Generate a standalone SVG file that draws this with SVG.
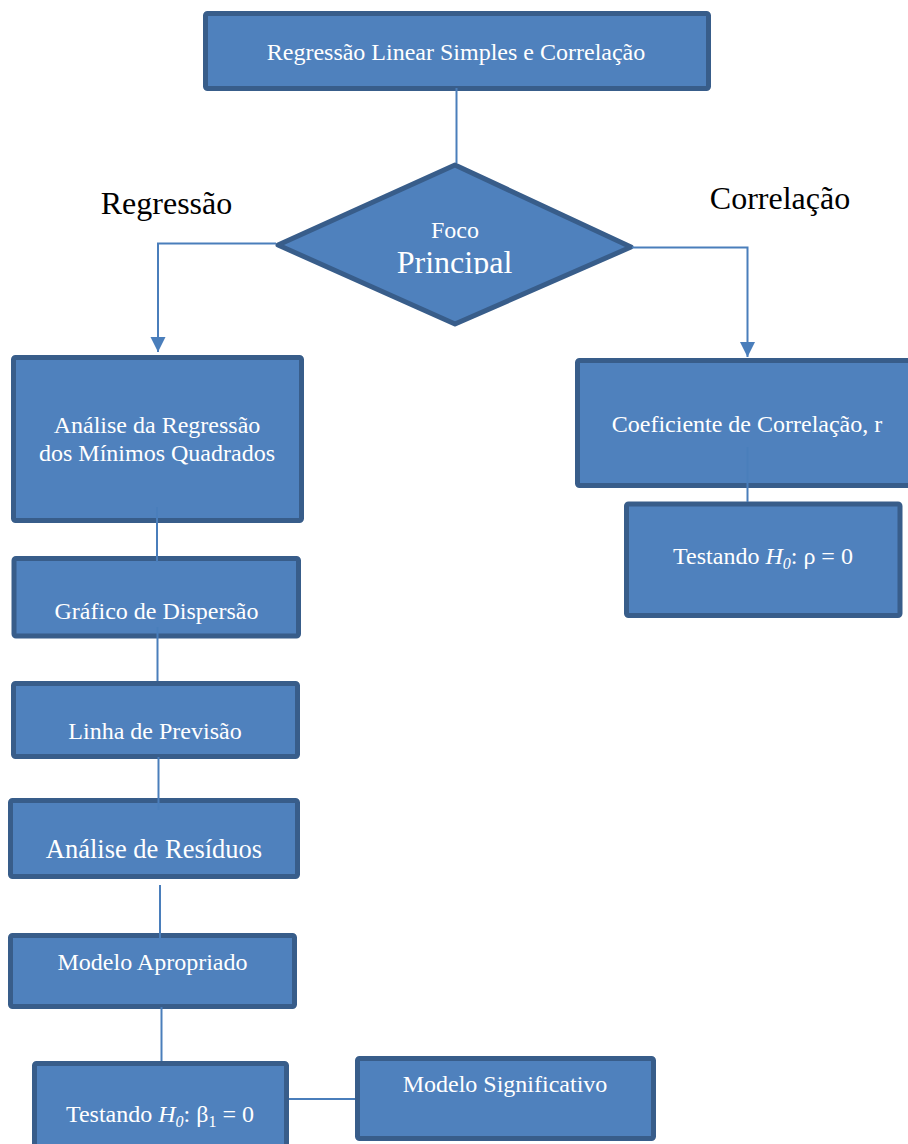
<svg xmlns="http://www.w3.org/2000/svg" width="908" height="1144" viewBox="0 0 908 1144">
<style>
.box{fill:#4F81BD;stroke:#385D8A;stroke-width:5;}
.t{font-family:"Liberation Serif","Times New Roman",serif;fill:#FFFFFF;font-size:24px;text-anchor:middle;}
.lbl{font-family:"Liberation Serif","Times New Roman",serif;fill:#000000;font-size:32px;text-anchor:middle;}
.con{fill:none;stroke:#4A7EBB;stroke-width:2;}
</style>
<defs>
<marker id="arr" markerUnits="userSpaceOnUse" markerWidth="16" markerHeight="16" refX="15" refY="7.5" orient="auto">
<path d="M0,0 L15,7.5 L0,15 z" fill="#4A7EBB"/>
</marker>
<clipPath id="clipP"><rect x="300" y="240" width="310" height="34"/></clipPath>
</defs>
<rect width="908" height="1144" fill="#FFFFFF"/>

<text class="lbl" x="166.5" y="213.5">Regressão</text>
<text class="lbl" x="780" y="208.5">Correlação</text>

<g id="top">
<rect class="box" x="205.5" y="13.5" width="503" height="75" rx="2"/>
<text class="t" x="456" y="60">Regressão Linear Simples e Correlação</text>
</g>

<g id="foco">
<polygon class="box" points="278,245 455,165 631,247 455,324" stroke-linejoin="round"/>
<text class="t" x="455" y="238" style="font-size:24px">Foco</text>
<text class="t" x="454.5" y="272.5" style="font-size:32px" clip-path="url(#clipP)">Principal</text>
</g>

<g id="analise-regressao">
<rect class="box" x="13.5" y="357.5" width="288" height="163" rx="2"/>
<text class="t" x="157" y="433">Análise da Regressão</text>
<text class="t" x="157" y="461">dos Mínimos Quadrados</text>
</g>

<g id="grafico">
<rect class="box" x="14" y="558.5" width="284.5" height="77.5" rx="2"/>
<text class="t" x="156.5" y="618.5">Gráfico de Dispersão</text>
</g>

<g id="linha">
<rect class="box" x="13.5" y="683.5" width="284" height="73" rx="2"/>
<text class="t" x="155" y="739">Linha de Previsão</text>
</g>

<g id="residuos">
<rect class="box" x="10.5" y="800.5" width="287" height="76" rx="2"/>
<text class="t" x="154" y="858" style="font-size:26.5px">Análise de Resíduos</text>
</g>

<g id="apropriado">
<rect class="box" x="10.5" y="935.5" width="284" height="71" rx="2"/>
<text class="t" x="152.5" y="970">Modelo Apropriado</text>
</g>

<g id="testando-beta">
<rect class="box" x="34.5" y="1063.5" width="252" height="100" rx="2"/>
<text class="t" x="160" y="1122">Testando <tspan font-style="italic">H</tspan><tspan font-style="italic" font-size="16" dy="5">0</tspan><tspan dy="-5">: β</tspan><tspan font-size="16" dy="5">1</tspan><tspan dy="-5"> = 0</tspan></text>
</g>

<g id="significativo">
<rect class="box" x="357.5" y="1058.5" width="296" height="80" rx="2"/>
<text class="t" x="505" y="1092">Modelo Significativo</text>
</g>

<g id="coeficiente">
<rect class="box" x="577.5" y="360.5" width="340" height="125" rx="2"/>
<text class="t" x="747" y="432">Coeficiente de Correlação, r</text>
</g>

<g id="testando-rho">
<rect class="box" x="626.5" y="504" width="273.5" height="111.5" rx="2"/>
<text class="t" x="763" y="563.5">Testando <tspan font-style="italic">H</tspan><tspan font-style="italic" font-size="16" dy="5">0</tspan><tspan dy="-5">: ρ = 0</tspan></text>
</g>

<g id="connectors">
<path class="con" d="M456.5,88 V163"/>
<path class="con" d="M276,243.5 H158 V352" marker-end="url(#arr)"/>
<path class="con" d="M632,247.5 H747.5 V357" marker-end="url(#arr)"/>
<path class="con" d="M157,507 V562"/>
<path class="con" d="M157.5,627 V681"/>
<path class="con" d="M158.5,757 V810"/>
<path class="con" d="M160,885 V938"/>
<path class="con" d="M161.5,1007 V1061"/>
<path class="con" d="M289,1099 H355"/>
<path class="con" d="M747.5,447 V502"/>
</g>
</svg>
